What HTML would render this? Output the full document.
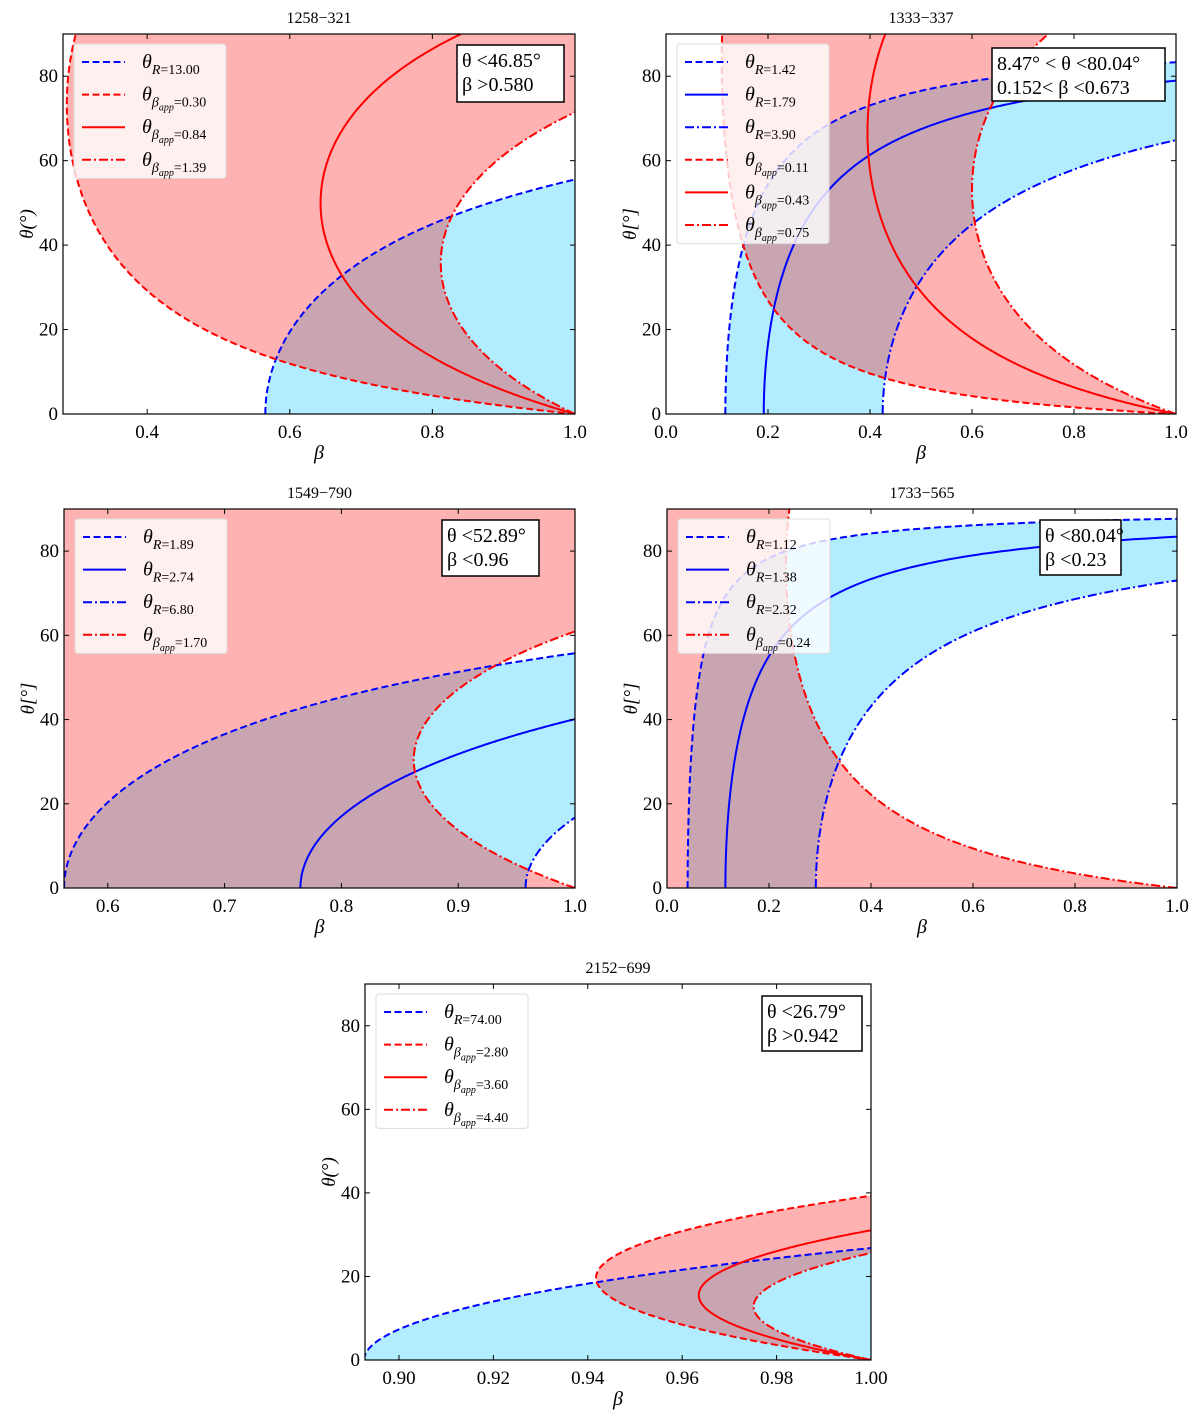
<!DOCTYPE html>
<html><head><meta charset="utf-8"><style>
body{margin:0;background:#fff}
svg{display:block;font-family:"Liberation Serif",serif}
</style></head><body>
<svg id="fig" width="1200" height="1419" viewBox="0 0 1200 1419" xmlns="http://www.w3.org/2000/svg"></svg>
<script>
const titles=["1258\u2212321","1333\u2212337","1549\u2212790","1733\u2212565","2152\u2212699"];
const xMins=[0.282,0,0.5625,0,0.8928];
const kExps=[2,1.5,0.5,1.4,1.5];
const rValues=[[13.00],[1.42,1.79,3.90],[1.89,2.74,6.80],[1.12,1.38,2.32],[74.00]];
const rStyles=[["dash"],["dash","solid","dashdot"],["dash","solid","dashdot"],["dash","solid","dashdot"],["dash"]];
const bappValues=[[0.30,0.84,1.39],[0.11,0.43,0.75],[1.70],[0.24],[2.80,3.60,4.40]];
const bappStyles=[["dash","solid","dashdot"],["dash","solid","dashdot"],["dashdot"],["dashdot"],["dash","solid","dashdot"]];
const redFill=[[0.30,1.39],[0.11,0.75],[null,1.70],[null,0.24],[2.80,4.40]];
const blueFill=[[13.00,null],[1.42,3.90],[1.89,6.80],[1.12,2.32],[74.00,null]];
const xTicks=[[0.4,0.6,0.8,1.0],[0,0.2,0.4,0.6,0.8,1.0],[0.6,0.7,0.8,0.9,1.0],[0,0.2,0.4,0.6,0.8,1.0],[0.90,0.92,0.94,0.96,0.98,1.00]];
const xTickDec=[1,1,1,1,2];
const yTicks=[0,20,40,60,80];
const infoLines=[["\u03B8 <46.85\u00B0","\u03B2 >0.580"],["8.47\u00B0 < \u03B8 <80.04\u00B0","0.152< \u03B2 <0.673"],["\u03B8 <52.89\u00B0","\u03B2 <0.96"],["\u03B8 <80.04\u00B0","\u03B2 <0.23"],["\u03B8 <26.79\u00B0","\u03B2 >0.942"]];
const yLabels=["\u03B8(\u00B0)","\u03B8[\u00B0]","\u03B8[\u00B0]","\u03B8[\u00B0]","\u03B8(\u00B0)"];
const boxes=[[63,34,575,414],[666,34,1176,414],[64,509,575,888],[667,509,1177,888],[365,984,871,1360]];
const infoBoxes=[[457,45,107,57],[992,48,173,53],[442,520,97,56],[1040,520,81,55],[762,996,100,55]];
const NS="http://www.w3.org/2000/svg";
const svg=document.getElementById('fig');
function mk(tag,attrs,parent){const e=document.createElementNS(NS,tag);for(const k in attrs)e.setAttribute(k,attrs[k]);(parent||svg).appendChild(e);return e;}
const dashes={dash:"7,3.5",solid:"",dashdot:"9,3,2,3"};
const D=Math.PI/180;
function cFromR(R,k){const q=Math.pow(R,1/k);return (q-1)/(q+1);}
function betaApp(b,t){return b/(Math.sin(t)+b*Math.cos(t));}
for(let p=0;p<5;p++){
  const [x0,y0,x1,y1]=boxes[p];const xmin=xMins[p];
  const X=b=>x0+(b-xmin)/(1-xmin)*(x1-x0);
  const Y=th=>y1-th/90*(y1-y0);
  const g=mk('g',{});
  
  
  const cid='clip'+p;
  const cp=mk('clipPath',{id:cid},g);mk('rect',{x:x0,y:y0,width:x1-x0,height:y1-y0},cp);
  const plot=mk('g',{'clip-path':'url(#'+cid+')'},g);
  const N=600;const cl=v=>Math.max(xmin-0.1,Math.min(1.1,v));
  // blue fill
  {const [lo,hi]=blueFill[p];const c1=cFromR(lo,kExps[p]);const c2=hi==null?null:cFromR(hi,kExps[p]);let L=[],Rr=[];
   for(let i=0;i<=N;i++){const th=90*i/N,t=th*D,cs=Math.max(Math.cos(t),1e-6);
     let l=cl(c1/cs),r=c2==null?1.1:cl(c2/cs);if(r<l)r=l;L.push([X(l),Y(th)]);Rr.push([X(r),Y(th)]);}
   const pts=L.concat(Rr.reverse()).map(a=>a[0].toFixed(1)+','+a[1].toFixed(1)).join(' ');
   const e=mk('polygon',{points:pts,fill:'rgb(0,191,255)','fill-opacity':0.3},plot);
   
   }
  // red fill
  {const [lo,hi]=redFill[p];let L=[],Rr=[];
   for(let i=0;i<=N;i++){const th=90*i/N,t=th*D;
     let l=lo==null?xmin-0.1:betaApp(lo,t),r=hi==null?1.1:betaApp(hi,t);
     l=cl(l);r=cl(r);if(r<l)r=l;L.push([X(l),Y(th)]);Rr.push([X(r),Y(th)]);}
   const pts=L.concat(Rr.reverse()).map(a=>a[0].toFixed(1)+','+a[1].toFixed(1)).join(' ');
   const e=mk('polygon',{points:pts,fill:'rgb(255,0,0)','fill-opacity':0.3},plot);
   
   }
  rValues[p].forEach((R,i)=>{const c=cFromR(R,kExps[p]);let pts=[];
    for(let j=0;j<=N;j++){const th=90*j/N,cs=Math.cos(th*D);const b=c/Math.max(cs,1e-6);if(b>1.05)break;pts.push(X(b).toFixed(1)+','+Y(th).toFixed(1));}
    const e=mk('polyline',{points:pts.join(' '),fill:'none',stroke:'#0000ff','stroke-width':2,'stroke-dasharray':dashes[rStyles[p][i]]},plot);
    
    });
  bappValues[p].forEach((bv,i)=>{let pts=[];
    for(let j=0;j<=N;j++){const th=90*j/N;const b=betaApp(bv,th*D);pts.push(X(cl(b)).toFixed(1)+','+Y(th).toFixed(1));}
    const e=mk('polyline',{points:pts.join(' '),fill:'none',stroke:'#ff0000','stroke-width':2,'stroke-dasharray':dashes[bappStyles[p][i]]},plot);
    
    });
  mk('rect',{x:x0,y:y0,width:x1-x0,height:y1-y0,fill:'none',stroke:'#000','stroke-width':1.2},g);
  xTicks[p].forEach(v=>{const x=X(v);mk('line',{x1:x,x2:x,y1:y1,y2:y1-5,stroke:'#000'},g);mk('line',{x1:x,x2:x,y1:y0,y2:y0+5,stroke:'#000'},g);
    const t=mk('text',{x:x,y:y1+24,'text-anchor':'middle','font-size':19},g);t.textContent=v.toFixed(xTickDec[p]);
    
    });
  yTicks.forEach(v=>{const y=Y(v);mk('line',{x1:x0,x2:x0+5,y1:y,y2:y,stroke:'#000'},g);mk('line',{x1:x1,x2:x1-5,y1:y,y2:y,stroke:'#000'},g);
    const t=mk('text',{x:x0-5,y:y+6,'text-anchor':'end','font-size':19},g);t.textContent=v;
    
    });
  const tt=mk('text',{x:(x0+x1)/2,y:y0-11,'text-anchor':'middle','font-size':16},g);tt.textContent=titles[p];
  
  
  const xl=mk('text',{x:(x0+x1)/2,y:y1+45,'text-anchor':'middle','font-size':20,'font-style':'italic'},g);xl.textContent='\u03B2';
  
  
  const yl=mk('text',{x:0,y:0,'text-anchor':'middle','font-size':19,'font-style':'italic',transform:`translate(${x0-30},${(y0+y1)/2}) rotate(-90)`},g);yl.textContent=yLabels[p];
  
  
  const entries=[];rValues[p].forEach((R,i)=>entries.push(['#0000ff',rStyles[p][i],'R',R.toFixed(2)]));
  bappValues[p].forEach((b,i)=>entries.push(['#ff0000',bappStyles[p][i],'b',b.toFixed(2)]));
  const lx=x0+11,ly=y0+10;
  const lg=mk('g',{},g);
  
  
  mk('rect',{x:lx,y:ly,width:152,height:entries.length*32.6+4,rx:3,fill:'rgba(255,255,255,0.8)',stroke:'#ddd'},lg);
  entries.forEach((en,i)=>{const yy=ly+18+i*32.6;
    mk('line',{x1:lx+8,x2:lx+51,y1:yy,y2:yy,stroke:en[0],'stroke-width':2,'stroke-dasharray':dashes[en[1]]},lg);
    const t=mk('text',{x:lx+68,y:yy+6,'font-size':20},lg);
    
    
    const a=mk('tspan',{'font-style':'italic'},t);a.textContent='\u03B8';
    if(en[2]==='R'){const s=mk('tspan',{dy:6,'font-size':14},t);const si=mk('tspan',{'font-style':'italic'},s);si.textContent='R';const s2=mk('tspan',{},s);s2.textContent='='+en[3];}
    else{const s=mk('tspan',{dy:6,'font-size':14,'font-style':'italic'},t);s.textContent='\u03B2';const s3=mk('tspan',{dy:4,'font-size':10,'font-style':'italic'},t);s3.textContent='app';const s4=mk('tspan',{dy:-4,'font-size':14},t);s4.textContent='='+en[3];}
  });
  const [ix,iy,iw,ih]=infoBoxes[p];
  const ib=mk('g',{},g);
  
  
  mk('rect',{x:ix,y:iy,width:iw,height:ih,fill:'#fff',stroke:'#000','stroke-width':1.5},ib);
  infoLines[p].forEach((s,i)=>{const t=mk('text',{x:ix+5,y:iy+22+i*24,'font-size':20},ib);t.textContent=s;});
}
</script>
</body></html>
